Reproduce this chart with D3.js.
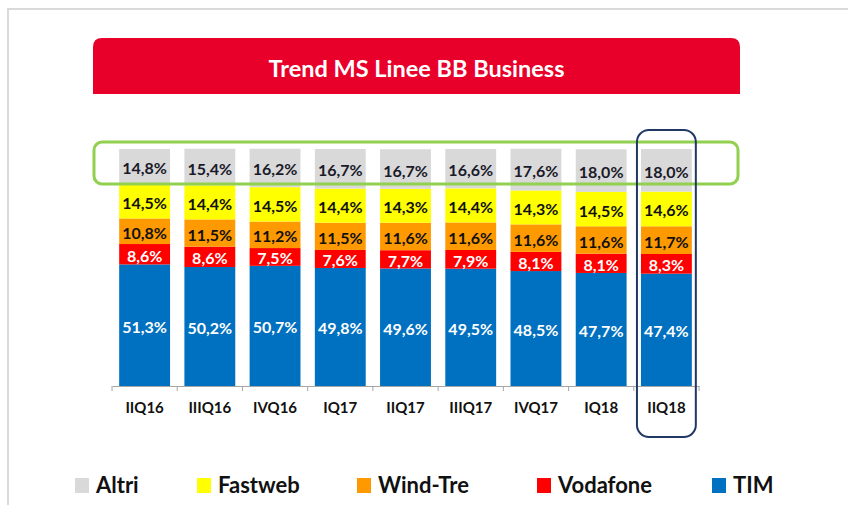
<!DOCTYPE html>
<html>
<head>
<meta charset="utf-8">
<script src="https://cdn.jsdelivr.net/npm/d3@7"></script>
<style>
  html, body { margin: 0; padding: 0; background: #fff; }
  svg { display: block; }
</style>
</head>
<body>
<div id="chart"></div>
<script>
// Trend MS Linee BB Business - stacked 100% bars per quarter

const quarters = ["IIQ16", "IIIQ16", "IVQ16", "IQ17", "IIQ17", "IIIQ17", "IVQ17", "IQ18", "IIQ18"];

const tim      = [51.3, 50.2, 50.7, 49.8, 49.6, 49.5, 48.5, 47.7, 47.4];
const vodafone = [8.6, 8.6, 7.5, 7.6, 7.7, 7.9, 8.1, 8.1, 8.3];
const windTre  = [10.8, 11.5, 11.2, 11.5, 11.6, 11.6, 11.6, 11.6, 11.7];
const fastweb  = [14.5, 14.4, 14.5, 14.4, 14.3, 14.4, 14.3, 14.5, 14.6];
const altri    = [14.8, 15.4, 16.2, 16.7, 16.7, 16.6, 17.6, 18.0, 18.0];

// stacked bottom -> top
const SERIES = [
  { key: "tim",      label: "TIM",      values: tim,      color: "#0070C0", text: "#ffffff" },
  { key: "vodafone", label: "Vodafone", values: vodafone, color: "#FF0000", text: "#ffffff" },
  { key: "windTre",  label: "Wind-Tre", values: windTre,  color: "#FF9900", text: "#111111" },
  { key: "fastweb",  label: "Fastweb",  values: fastweb,  color: "#FFFF00", text: "#111111" },
  { key: "altri",    label: "Altri",    values: altri,    color: "#D9D9D9", text: "#1a1a2a" },
];

const LEGEND_ORDER = ["altri", "fastweb", "windTre", "vodafone", "tim"];
const HIGHLIGHT = "IIQ18";

const W = 848, H = 515;
const FONT = "Lato, 'Open Sans', sans-serif";

const svg = d3.select("#chart").append("svg")
  .attr("width", W).attr("height", H);

// slide frame
svg.append("path")
  .attr("d", `M8,505 L8,9 L${W},9`)
  .attr("fill", "none")
  .attr("stroke", "#DADADA")
  .attr("stroke-width", 2);

// title banner (rounded top corners)
const bx0 = 93, bx1 = 740, by0 = 38, by1 = 94, br = 9;
svg.append("path")
  .attr("d", `M${bx0},${by1} L${bx0},${by0 + br} Q${bx0},${by0} ${bx0 + br},${by0}
              L${bx1 - br},${by0} Q${bx1},${by0} ${bx1},${by0 + br} L${bx1},${by1} Z`)
  .attr("fill", "#E8002A");

svg.append("text")
  .attr("x", (bx0 + bx1) / 2)
  .attr("y", 68)
  .attr("text-anchor", "middle")
  .attr("dominant-baseline", "central")
  .attr("fill", "#fff")
  .attr("font-family", FONT)
  .attr("font-weight", 700)
  .attr("font-size", "23.5px")
  .text("Trend MS Linee BB Business");

// scales
const x = d3.scaleBand()
  .domain(quarters)
  .range([112, 699])
  .paddingInner(0.22)
  .paddingOuter(0.11);

const y = d3.scaleLinear().domain([0, 100]).range([386, 149]);

const rows = quarters.map((q, i) => {
  const r = { q };
  SERIES.forEach(s => { r[s.key] = s.values[i]; });
  return r;
});

const stacked = d3.stack().keys(SERIES.map(s => s.key))(rows);
const fmt = v => v.toFixed(1).replace(".", ",") + "%";

const g = svg.append("g");

stacked.forEach((layer, li) => {
  const s = SERIES[li];
  const lg = g.append("g");
  lg.selectAll("rect")
    .data(layer)
    .join("rect")
      .attr("x", d => x(d.data.q))
      .attr("y", d => y(d[1]))
      .attr("width", x.bandwidth())
      .attr("height", d => y(d[0]) - y(d[1]))
      .attr("fill", s.color);

  lg.selectAll("text")
    .data(layer)
    .join("text")
      .attr("x", d => x(d.data.q) + x.bandwidth() / 2)
      .attr("y", d => (y(d[0]) + y(d[1])) / 2 + 1)
      .attr("text-anchor", "middle")
      .attr("dominant-baseline", "central")
      .attr("fill", s.text)
      .attr("font-family", FONT)
      .attr("font-weight", 700)
      .attr("font-size", "16px")
      .text(d => fmt(d.data[s.key]));
});

// x axis
const xAxisG = svg.append("g")
  .attr("transform", `translate(0,${y(0)})`)
  .call(d3.axisBottom(x).tickSize(0).tickPadding(16));
xAxisG.select(".domain").attr("stroke", "#A6A6A6").attr("stroke-width", 1);
xAxisG.selectAll(".tick text")
  .attr("fill", "#111")
  .attr("font-family", FONT)
  .attr("font-weight", 700)
  .attr("font-size", "15px");

// tick marks at the band boundaries
const step = x.step();
const bounds = quarters.map(q => x(q) - x.paddingInner() * step / 2)
  .concat([x(quarters[quarters.length - 1]) + x.bandwidth() + x.paddingInner() * step / 2]);
svg.append("g").selectAll("line")
  .data(bounds)
  .join("line")
    .attr("x1", d => d).attr("x2", d => d)
    .attr("y1", y(0)).attr("y2", y(0) + 5)
    .attr("stroke", "#A6A6A6")
    .attr("stroke-width", 1);

// green highlight around the "Altri" row
svg.append("rect")
  .attr("x", 94).attr("y", 142)
  .attr("width", 644).attr("height", 42)
  .attr("rx", 8)
  .attr("fill", "none")
  .attr("stroke", "#92D050")
  .attr("stroke-width", 3);

// navy highlight around the last quarter
const hx = x(HIGHLIGHT);
svg.append("rect")
  .attr("x", hx - 4).attr("y", 130)
  .attr("width", x.bandwidth() + 8).attr("height", 307)
  .attr("rx", 12)
  .attr("fill", "none")
  .attr("stroke", "#203864")
  .attr("stroke-width", 2);

// legend
const legendX = [75, 197, 357, 537, 712];
const legend = svg.append("g");
LEGEND_ORDER.forEach((k, i) => {
  const s = SERIES.find(d => d.key === k);
  legend.append("rect")
    .attr("x", legendX[i]).attr("y", 478)
    .attr("width", 14).attr("height", 15)
    .attr("fill", s.color);
  legend.append("text")
    .attr("x", legendX[i] + 21)
    .attr("y", 493)
    .attr("fill", "#111")
    .attr("font-family", FONT)
    .attr("font-weight", 700)
    .attr("font-size", "22px")
    .text(s.label);
});
</script>
</body>
</html>
